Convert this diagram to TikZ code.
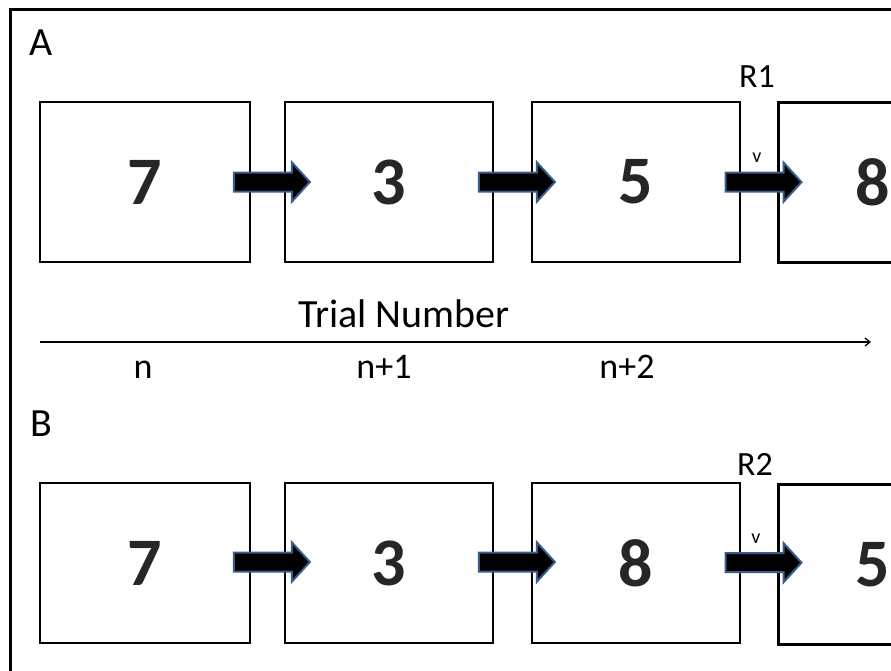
\documentclass[tikz,border=0pt]{standalone}
\usepackage{fontspec}
\setmainfont{Carlito}
\usetikzlibrary{shapes.arrows,calc,arrows.meta}
\definecolor{arrowedge}{HTML}{385D8A}
\tikzstyle{frm}=[line width=3pt]
\tikzstyle{box}=[draw=black,line width=2.6pt,minimum height=160pt,inner sep=0pt,font=\fontsize{68}{68}\selectfont\bfseries,text=black!85]
\tikzstyle{fat}=[single arrow,draw=arrowedge,fill=black,line width=2pt,inner xsep=0pt,inner ysep=8.5pt,minimum height=76pt,single arrow head extend=10pt,single arrow tip angle=95]
\tikzstyle{lbl}=[font=\fontsize{40}{40}\selectfont]
\tikzstyle{tri}=[font=\fontsize{36}{36}\selectfont,anchor=base]
\tikzstyle{rlab}=[font=\fontsize{34}{34}\selectfont]
\tikzstyle{tick}=[font=\fontsize{20}{20}\selectfont]

\begin{document}
\begin{tikzpicture}[x=1pt,y=-1pt]
\useasboundingbox (0,0) rectangle (891,670);
\clip (0,0) rectangle (891,670);
% outer frame
\draw[frm] (10,675) -- (10,9) -- (900,9);
% panel A
\node[lbl] (la) at (41,43) {A};
\node[box,minimum width=210pt] (a1) at (145,182) {7};
\node[box,minimum width=208pt] (a2) at (389,182) {3};
\node[box,minimum width=208pt] (a3) at (636,182) {5};
\node[box,minimum width=188pt,anchor=north west] (a4) at (777,101) {8};
\node[fat] (fa1) at ($(a1.east)!0.5!(a2.west)$) {};
\node[fat] (fa2) at ($(a2.east)!0.5!(a3.west)$) {};
\node[fat] (fa3) at ($(a3.east)!0.5!(a4.west)$) {};
\node[rlab] (r1) at (757,77) {R1};
\node[tick] (v1) at (757,158) {v};
% trial axis
\node[lbl,anchor=base] (tn) at (404,327) {Trial Number};
\coordinate (ax0) at (40,342);
\coordinate (ax1) at (871,342);
\draw[line width=1.3pt,-{Straight Barb[length=5pt,width=8pt]}] (ax0) -- (ax1);
\node[tri] (t0) at (143,378) {n};
\node[tri] (t1) at (384,378) {n+1};
\node[tri] (t2) at (627,378) {n+2};
% panel B
\node[lbl] (lb) at (41,424) {B};
\node[box,minimum width=210pt] (b1) at (145,563) {7};
\node[box,minimum width=208pt] (b2) at (389,563) {3};
\node[box,minimum width=208pt] (b3) at (636,563) {8};
\node[box,minimum width=188pt,anchor=north west] (b4) at (777,483) {5};
\node[fat] (fb1) at ($(b1.east)!0.5!(b2.west)+(0,-1)$) {};
\node[fat] (fb2) at ($(b2.east)!0.5!(b3.west)+(0,-1)$) {};
\node[fat] (fb3) at ($(b3.east)!0.5!(b4.west)+(0,-1)$) {};
\node[rlab] (r2) at (755,464) {R2};
\node[tick] (v2) at (756,539) {v};
\end{tikzpicture}
\end{document}
